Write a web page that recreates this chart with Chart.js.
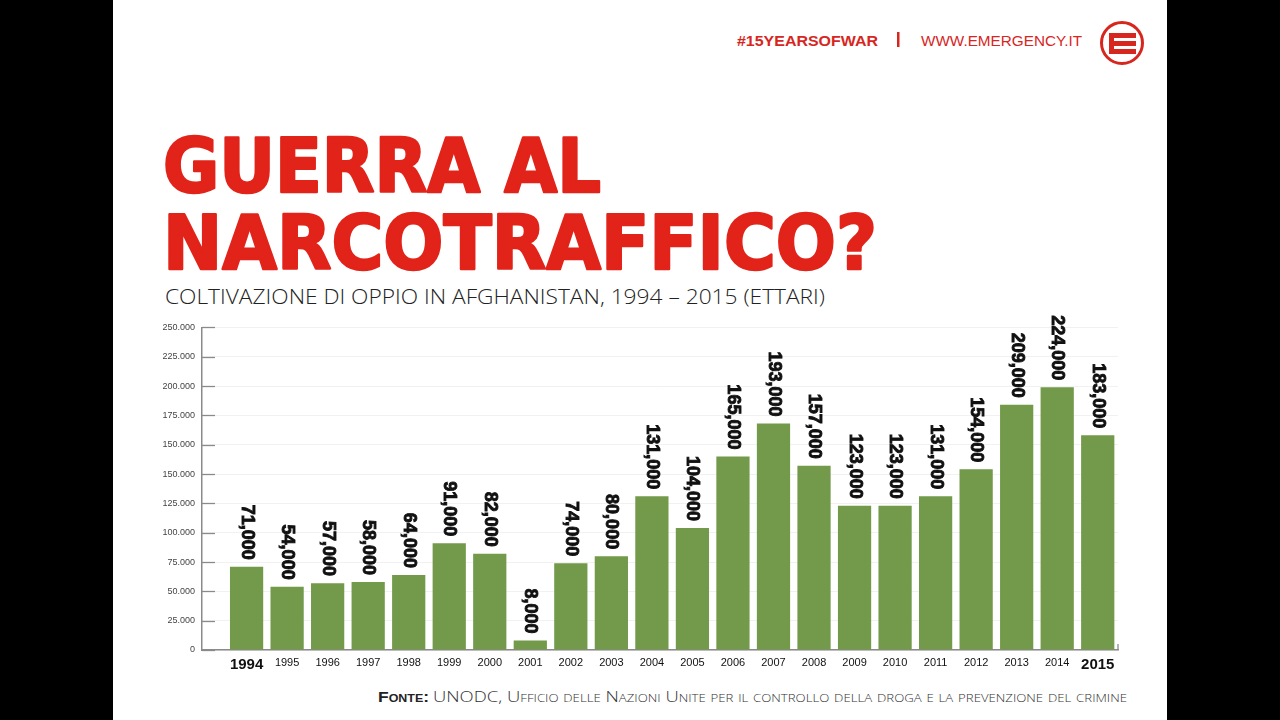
<!DOCTYPE html>
<html>
<head>
<meta charset="utf-8">
<script src="https://cdn.jsdelivr.net/npm/chart.js@4"></script>
<style>
  html, body { margin: 0; padding: 0; background: #000; }
  #page { position: relative; width: 1280px; height: 720px; background: #000; overflow: hidden; }
  #sheet { position: absolute; left: 113px; top: 0; width: 1054px; height: 720px; background: #fff; }
  #overlay { position: absolute; left: 0; top: 0; }
  #chart-wrap { position: absolute; left: 150px; top: 315px; width: 980px; height: 365px; }
</style>
</head>
<body>
<div id="page">
  <div id="sheet"></div>
  <svg id="overlay" width="1280" height="720">
    <text x="737" y="46" textLength="141" lengthAdjust="spacingAndGlyphs" fill="#d7261e" font-family="Liberation Sans" font-weight="bold" font-size="15">#15YEARSOFWAR</text>
    <rect x="897" y="32" width="2.5" height="15" fill="#d7261e"></rect>
    <text x="921" y="46" textLength="161" lengthAdjust="spacingAndGlyphs" fill="#d7261e" font-family="Liberation Sans" font-size="15">WWW.EMERGENCY.IT</text>
    <circle cx="1122" cy="43" r="20.5" fill="none" stroke="#d7261e" stroke-width="3"></circle>
    <rect x="1109" y="33" width="27" height="5" fill="#d7261e"></rect>
    <rect x="1109" y="41" width="27" height="5" fill="#d7261e"></rect>
    <rect x="1109" y="49" width="27" height="5" fill="#d7261e"></rect>
    <rect x="1109" y="33" width="5" height="21" fill="#d7261e"></rect>

    <text x="163" y="192" textLength="438" lengthAdjust="spacingAndGlyphs" fill="#e2231a" stroke="#e2231a" stroke-width="2.5" stroke-linejoin="round" font-family="DejaVu Sans" font-weight="bold" font-size="74">GUERRA AL</text>
    <text x="163" y="269" textLength="714" lengthAdjust="spacingAndGlyphs" fill="#e2231a" stroke="#e2231a" stroke-width="2.5" stroke-linejoin="round" font-family="DejaVu Sans" font-weight="bold" font-size="74">NARCOTRAFFICO?</text>
    <text x="165" y="304" textLength="660" lengthAdjust="spacingAndGlyphs" fill="#222" font-family="Open Sans" font-weight="300" font-size="21">COLTIVAZIONE DI OPPIO IN AFGHANISTAN, 1994 – 2015 (ETTARI)</text>

    <text y="702" font-size="14" style="font-variant: small-caps">
      <tspan x="378" textLength="51" lengthAdjust="spacingAndGlyphs" font-family="Liberation Sans" font-weight="bold" fill="#222">Fonte:</tspan>
      <tspan x="433" textLength="694" lengthAdjust="spacingAndGlyphs" font-family="Open Sans" font-weight="300" fill="#333">UNODC, Ufficio delle Nazioni Unite per il controllo della droga e la prevenzione del crimine</tspan>
    </text>
  </svg>
  <div id="chart-wrap"><canvas id="opium-chart" width="980" height="365"></canvas></div>
</div>

<script>
// Opium cultivation in Afghanistan, hectares
const years = [1994, 1995, 1996, 1997, 1998, 1999, 2000, 2001, 2002, 2003, 2004,
               2005, 2006, 2007, 2008, 2009, 2010, 2011, 2012, 2013, 2014, 2015];
const hectares = [71000, 54000, 57000, 58000, 64000, 91000, 82000, 8000, 74000, 80000, 131000,
                  104000, 165000, 193000, 157000, 123000, 123000, 131000, 154000, 209000, 224000, 183000];

// y tick labels exactly as printed on the original (150.000 appears twice)
const yTickLabels = ['0', '25.000', '50.000', '75.000', '100.000', '125.000',
                     '150.000', '150.000', '175.000', '200.000', '225.000', '250.000'];

// years shown in bold on the axis
const boldYears = [1994, 2015];

// Rotated value labels above each bar
const valueLabels = {
    id: 'valueLabels',
    afterDatasetsDraw(chart) {
        const ctx = chart.ctx;
        chart.getDatasetMeta(0).data.forEach((bar, i) => {
            ctx.save();
            ctx.translate(bar.x, bar.y - 7);
            ctx.rotate(Math.PI / 2);
            ctx.font = 'bold 18px "Liberation Sans"';
            ctx.fillStyle = '#111';
            ctx.strokeStyle = '#111';
            ctx.lineWidth = 0.9;
            ctx.textAlign = 'right';
            ctx.textBaseline = 'middle';
            const txt = hectares[i].toLocaleString('en-US');
            ctx.fillText(txt, 0, 0);
            ctx.strokeText(txt, 0, 0);
            ctx.restore();
        });
    }
};

// Short tick marks pointing into the plot, and the little end hook of the x axis
const innerTicks = {
    id: 'innerTicks',
    afterDraw(chart) {
        const ctx = chart.ctx;
        const area = chart.chartArea;
        const yScale = chart.scales.y;
        ctx.save();
        ctx.strokeStyle = '#8a8a8a';
        ctx.lineWidth = 1.3;
        yScale.ticks.forEach(t => {
            const py = Math.round(yScale.getPixelForValue(t.value)) + 0.5;
            ctx.beginPath();
            ctx.moveTo(area.left, py);
            ctx.lineTo(area.left + 13, py);
            ctx.stroke();
        });
        ctx.beginPath();
        ctx.moveTo(area.right, area.bottom);
        ctx.lineTo(area.right, area.bottom - 6);
        ctx.stroke();
        ctx.restore();
    }
};

function initChart() {
    const canvas = document.getElementById('opium-chart');
    new Chart(canvas, {
        type: 'bar',
        data: {
            datasets: [{
                data: years.map((y, i) => ({ x: y, y: hectares[i] })),
                backgroundColor: '#729a4a',
                barPercentage: 0.82,
                categoryPercentage: 1
            }]
        },
        options: {
            responsive: false,
            animation: false,
            layout: { padding: { top: 12, right: 12, left: 0, bottom: 0 } },
            plugins: { legend: { display: false }, tooltip: { enabled: false } },
            scales: {
                x: {
                    type: 'linear',
                    offset: false,
                    min: 1992.9,
                    max: 2015.5,
                    afterBuildTicks: s => { s.ticks = years.map(v => ({ value: v })); },
                    afterFit: s => { s.height = 30; },
                    grid: { display: false, drawTicks: false },
                    border: { color: '#8a8a8a', width: 1.5 },
                    ticks: {
                        autoSkip: false,
                        maxRotation: 0,
                        padding: 6,
                        color: '#111',
                        callback: v => String(v),
                        font: c => boldYears.includes(c.tick && c.tick.value)
                            ? { family: 'Liberation Sans', size: 15, weight: 'bold' }
                            : { family: 'Liberation Sans', size: 11 }
                    }
                },
                y: {
                    min: 0,
                    max: 275000,
                    afterFit: s => { s.width = 52; },
                    grid: { color: '#f1f1f1', drawTicks: false },
                    border: { color: '#8a8a8a', width: 1.5 },
                    ticks: {
                        stepSize: 25000,
                        padding: 7,
                        color: '#444',
                        font: { family: 'Liberation Sans', size: 9 },
                        callback: (v, i) => yTickLabels[i]
                    }
                }
            }
        },
        plugins: [valueLabels, innerTicks]
    });
}

document.addEventListener('DOMContentLoaded', initChart);
</script>
</body>
</html>
